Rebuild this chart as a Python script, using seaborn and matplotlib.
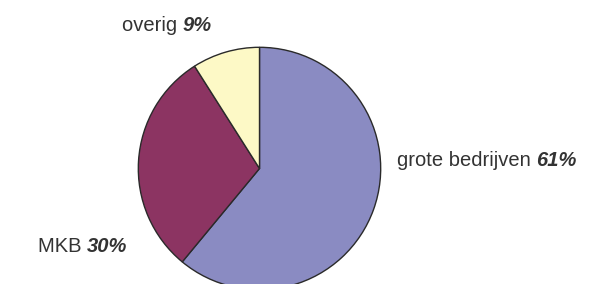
import matplotlib
matplotlib.use("Agg")
import matplotlib.pyplot as plt
import seaborn as sns

categories = ["grote bedrijven", "MKB", "overig"]
values = [61, 30, 9]
pct_labels = ["61%", "30%", "9%"]
colors = ["#8A8BC2", "#8C3462", "#FDF9C6"]

sns.set_style("white")
plt.rcParams["font.family"] = ["Liberation Sans", "DejaVu Sans"]

W, H = 605, 284
fig = plt.figure(figsize=(W / 100, H / 100), dpi=100)
ax = fig.add_axes([0, 0, 1, 1])

cx, cy, r = 259.5, 168.5, 121.2
# y axis is inverted below, so -90 is the top and counterclock runs clockwise on screen
ax.pie(values, colors=colors, startangle=-90, counterclock=True,
       center=(cx, cy), radius=r,
       wedgeprops=dict(edgecolor="#2a2a2a", linewidth=1.0))
ax.set_xlim(0, W)
ax.set_ylim(H, 0)
ax.set_aspect("equal")
ax.axis("off")

# label positions (left x, baseline y) in pixel coords
label_pos = {"grote bedrijven": (397, 166), "MKB": (38, 252), "overig": (122, 31)}
txtcol = "#333333"
fs = 14.5

fig.canvas.draw()
renderer = fig.canvas.get_renderer()
for cat, pct in zip(categories, pct_labels):
    x, y = label_pos[cat]
    t = ax.text(x, y, cat + " ", fontsize=fs, color=txtcol, va="baseline", ha="left")
    bb = t.get_window_extent(renderer=renderer)
    x1 = ax.transData.inverted().transform((bb.x1, bb.y0))[0]
    ax.text(x1, y, pct, fontsize=fs, color=txtcol, va="baseline", ha="left",
            fontweight="bold", fontstyle="italic")

fig.savefig("out.png", dpi=100)
